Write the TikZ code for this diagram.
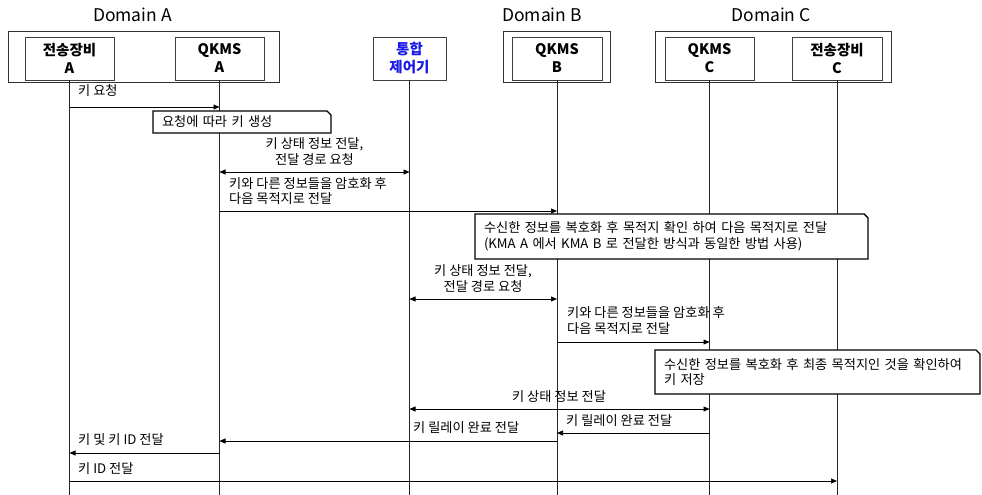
\documentclass[tikz,border=0pt]{standalone}
\usepackage{fontspec}
\setmainfont{Noto Sans CJK KR}
\usetikzlibrary{arrows.meta}
\definecolor{ctlblue}{RGB}{25,25,230}
\begin{document}
\begin{tikzpicture}[x=1pt,y=-1pt,
  actor/.style={draw=black!75, line width=0.8pt, minimum height=43pt, inner sep=0pt, outer sep=0pt,
    align=center, font=\fontsize{14.5}{18}\selectfont\bfseries},
  domainbox/.style={draw=black!80, line width=0.8pt},
  domlabel/.style={anchor=base, inner sep=0pt, font=\fontsize{17.5}{21}\selectfont},
  life/.style={draw=black!85, line width=0.8pt},
  msg/.style={draw=black, line width=0.7pt, -{Triangle[length=6pt,width=5pt]}},
  dmsg/.style={draw=black, line width=0.7pt, {Triangle[length=6pt,width=5pt]}-{Triangle[length=6pt,width=5pt]}},
  lbl/.style={inner sep=0pt, font=\fontsize{13.2}{15.5}\selectfont},
  notebox/.style={rectangle, fill=white, anchor=north west, inner xsep=9pt, inner ysep=0pt, outer sep=0pt,
    align=left, font=\fontsize{13.2}{15.5}\selectfont},
  noteline/.style={draw=black, line width=1.4pt, line join=miter}
]
\useasboundingbox (0,0) rectangle (982,495);

% domain frames
\draw[domainbox] (8,31) rectangle (279,82);
\draw[domainbox] (503,31) rectangle (610,82);
\draw[domainbox] (655,31) rectangle (891,82);
\node[domlabel] (dA) at (132.5,22) {Domain A};
\node[domlabel] (dB) at (542,22) {Domain B};
\node[domlabel] (dC) at (771,22) {Domain C};

% participants
\node[actor, minimum width=89pt] (ta) at (69.5,58.5) {전송장비\\A};
\node[actor, minimum width=89pt] (qa) at (219.5,58.5) {QKMS\\A};
\node[actor, minimum width=73pt, text=ctlblue] (ctl) at (409.5,58.5) {통합\\제어기};
\node[actor, minimum width=90pt] (qb) at (557,58.5) {QKMS\\B};
\node[actor, minimum width=89pt] (qc) at (709.5,58.5) {QKMS\\C};
\node[actor, minimum width=90pt] (tc) at (837,58.5) {전송장비\\C};

% lifelines
\coordinate (taE) at (ta.south |- 0,495);
\coordinate (qaE) at (qa.south |- 0,495);
\coordinate (ctlE) at (ctl.south |- 0,495);
\coordinate (qbE) at (qb.south |- 0,495);
\coordinate (qcE) at (qc.south |- 0,495);
\coordinate (tcE) at (tc.south |- 0,495);
\draw[life] (ta.south) -- (taE);
\draw[life] (qa.south) -- (qaE);
\draw[life] (ctl.south) -- (ctlE);
\draw[life] (qb.south) -- (qbE);
\draw[life] (qc.south) -- (qcE);
\draw[life] (tc.south) -- (tcE);

% messages
\draw[msg] (ta |- 0,107) -- (qa |- 0,107);
\node[lbl, anchor=west] (m1) at (78,91) {키 요청};

\draw[dmsg] (qa |- 0,172) -- (ctl |- 0,172);
\node[lbl, align=center] (m2) at (314.5,151.5) {키 상태 정보 전달,\\전달 경로 요청};

\draw[msg] (qa |- 0,211) -- (qb |- 0,211);
\node[lbl, anchor=west, align=left] (m3) at (229,191) {키와 다른 정보들을 암호화 후\\다음 목적지로 전달};

\draw[dmsg] (ctl |- 0,299) -- (qb |- 0,299);
\node[lbl, align=center] (m4) at (483,278.5) {키 상태 정보 전달,\\전달 경로 요청};

\draw[msg] (qb |- 0,342) -- (qc |- 0,342);
\node[lbl, anchor=west, align=left] (m5) at (567,320.5) {키와 다른 정보들을 암호화 후\\다음 목적지로 전달};

\draw[dmsg] (ctl |- 0,409) -- (qc |- 0,409);
\node[lbl] (m6) at (559,397) {키 상태 정보 전달};

\draw[msg] (qc |- 0,433) -- (qb |- 0,433);
\node[lbl, anchor=west] (m7) at (566,421) {키 릴레이 완료 전달};

\draw[msg] (qb |- 0,441) -- (qa |- 0,441);
\node[lbl, anchor=west] (m8) at (413,428) {키 릴레이 완료 전달};

\draw[msg] (qa |- 0,453) -- (ta |- 0,453);
\node[lbl, anchor=west] (m9) at (78,440) {키 및 키 ID 전달};

\draw[msg] (ta |- 0,481) -- (tc |- 0,481);
\node[lbl, anchor=west] (m10) at (78,469) {키 ID 전달};

% notes
\node[notebox, minimum width=178pt, minimum height=22pt, text width=160pt] (n1) at (153,111) {요청에 따라 키 생성};
\draw[noteline] (n1.north west) -- ([xshift=-4pt]n1.north east) -- ([yshift=-4pt]n1.north east) -- (n1.south east) -- (n1.south west) -- cycle;

\node[notebox, minimum width=393pt, minimum height=45pt, text width=375pt] (n2) at (475,214) {수신한 정보를 복호화 후 목적지 확인 하여 다음 목적지로 전달\\(KMA A 에서 KMA B 로 전달한 방식과 동일한 방법 사용)};
\draw[noteline] (n2.north west) -- ([xshift=-4pt]n2.north east) -- ([yshift=-4pt]n2.north east) -- (n2.south east) -- (n2.south west) -- cycle;

\node[notebox, minimum width=325pt, minimum height=44pt, text width=307pt] (n3) at (655,350) {수신한 정보를 복호화 후 최종 목적지인 것을 확인하여\\키 저장};
\draw[noteline] (n3.north west) -- ([xshift=-4pt]n3.north east) -- ([yshift=-4pt]n3.north east) -- (n3.south east) -- (n3.south west) -- cycle;
\end{tikzpicture}
\end{document}
